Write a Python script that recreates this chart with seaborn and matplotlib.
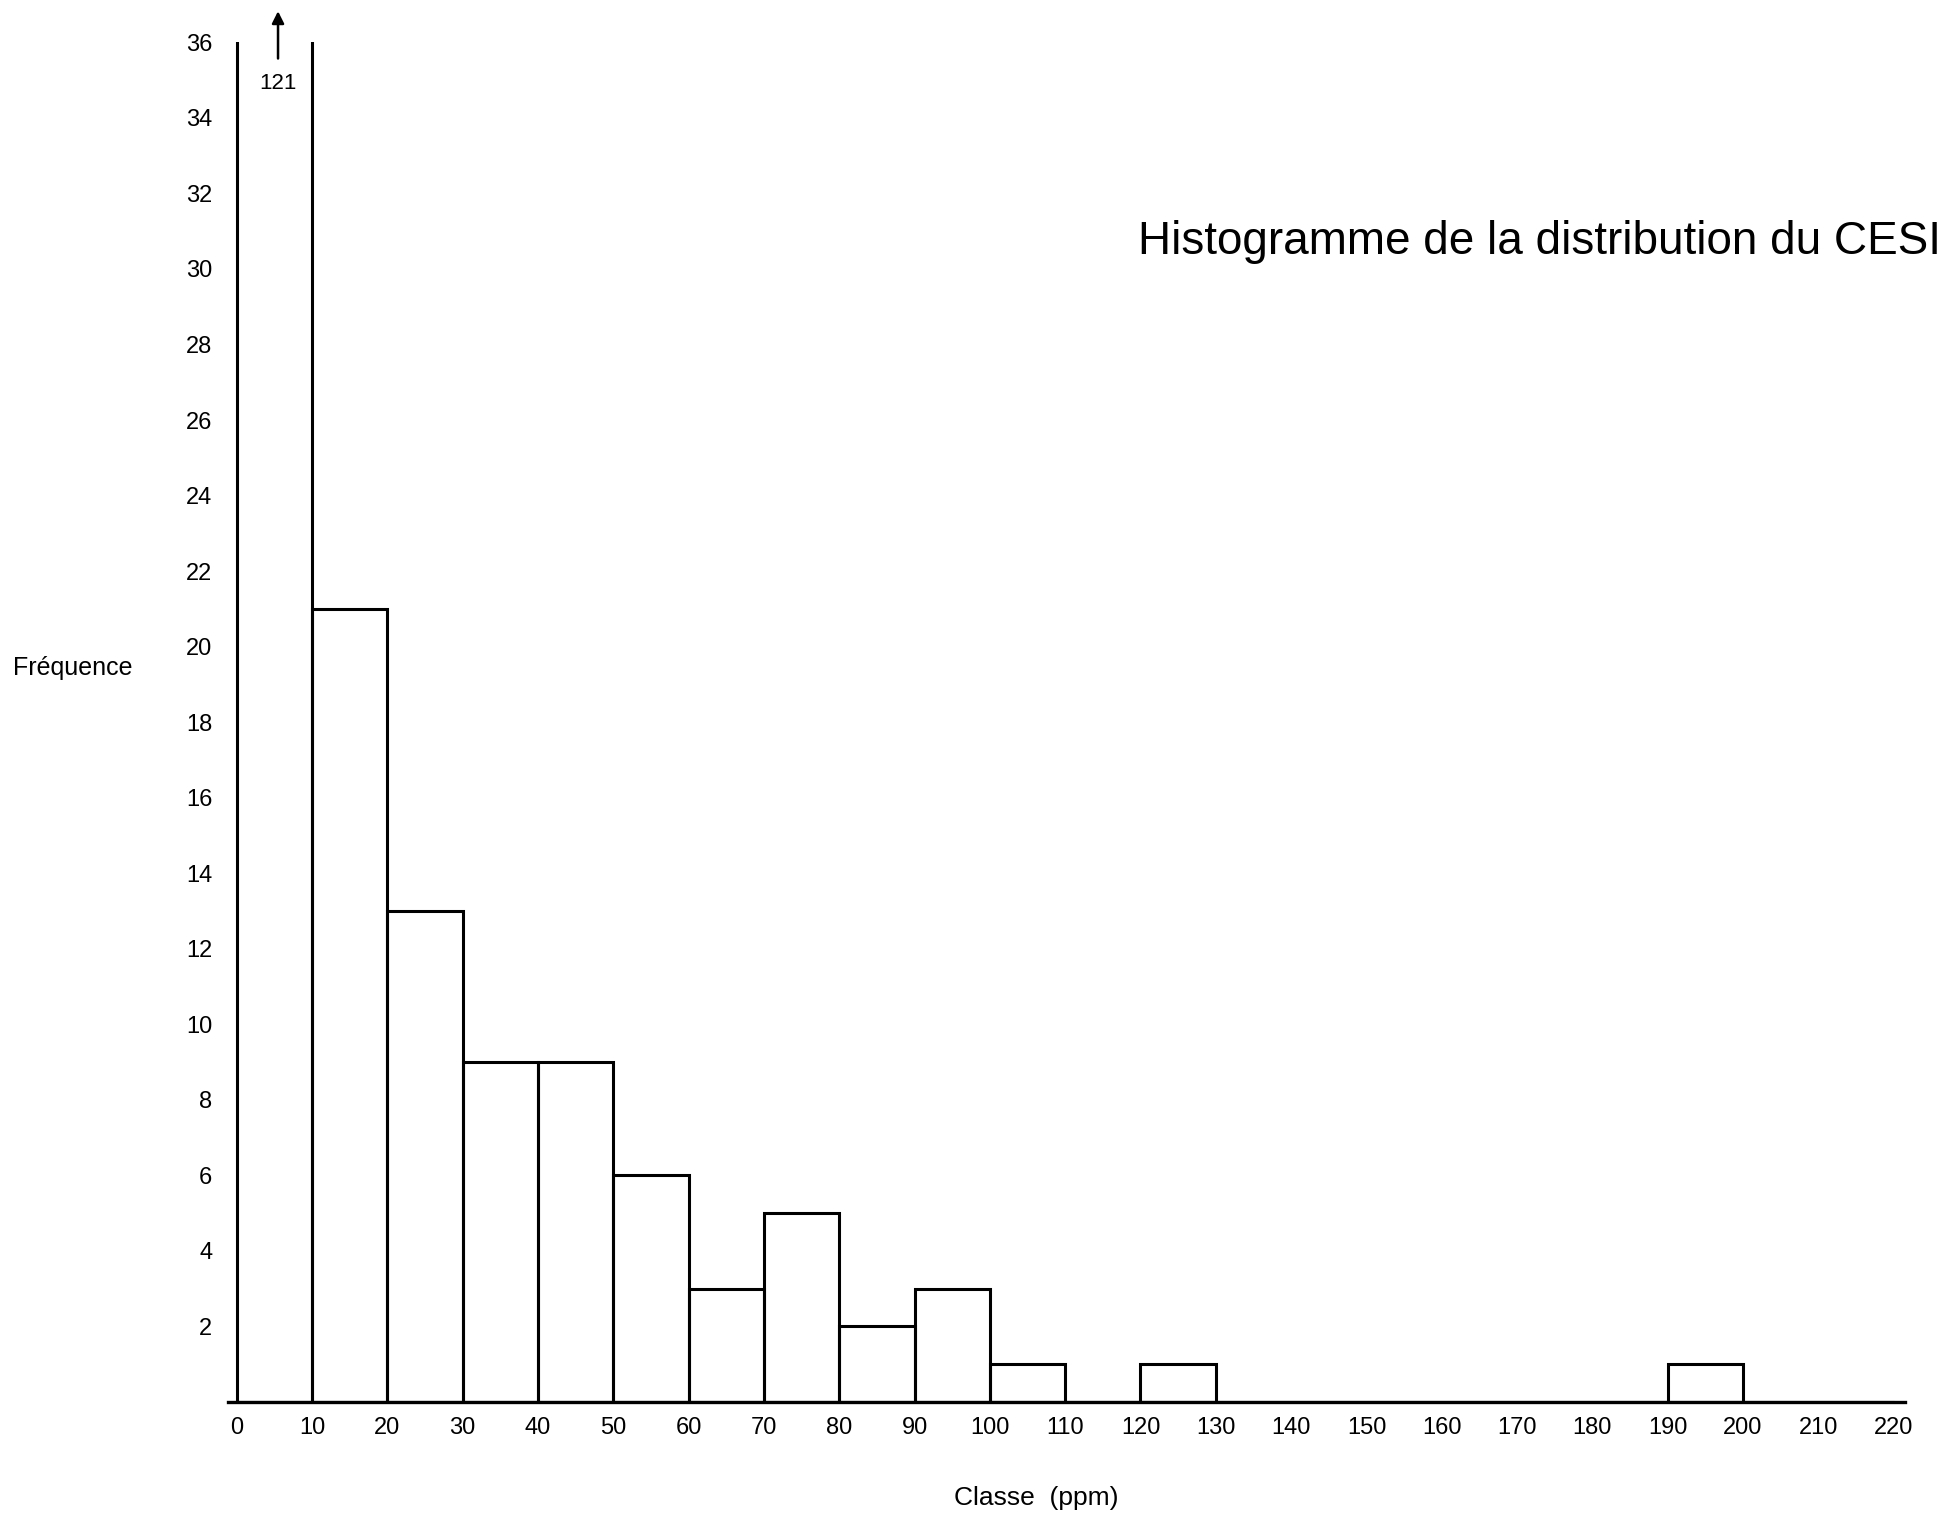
import numpy as np
import pandas as pd
import matplotlib
matplotlib.use("Agg")
import matplotlib.pyplot as plt
import seaborn as sns

# Class limits (ppm) and the number of samples in each class
class_edges = list(range(0, 230, 10))
class_counts = [121, 21, 13, 9, 9, 6, 3, 5, 2, 3, 1, 0, 1, 0, 0, 0, 0, 0, 0, 1, 0, 0]
x_ticks = list(range(0, 230, 10))
y_ticks = list(range(2, 38, 2))
first_class_label = "121"

title_text = "Histogramme de la distribution du CESIUM"
x_label = "Classe  (ppm)"
y_label = "Fréquence"

sns.set_theme(style="white")
plt.rcParams["font.family"] = ["Liberation Sans", "DejaVu Sans"]

df = pd.DataFrame({
    "centre": [(a + b) / 2 for a, b in zip(class_edges[:-1], class_edges[1:])],
    "n": class_counts,
})

fig = plt.figure(figsize=(19.4, 15.14), dpi=100)
ax = fig.add_axes([0.1173, 0.074, 0.8666, 0.898])

sns.histplot(data=df, x="centre", weights="n", bins=class_edges, fill=False,
             color="black", linewidth=2.2, ax=ax)

ax.set_xlim(-1.2, 222)
ax.set_ylim(0, 36)
ax.set_xticks(x_ticks)
ax.set_xticklabels([str(t) for t in x_ticks])
ax.set_yticks(y_ticks)
ax.set_yticklabels([str(t) for t in y_ticks])
ax.tick_params(axis="both", length=0, labelsize=17, colors="black")
ax.tick_params(axis="x", pad=11)
ax.tick_params(axis="y", pad=11)

for side in ["top", "right", "left"]:
    ax.spines[side].set_visible(False)
ax.spines["bottom"].set_color("black")
ax.spines["bottom"].set_linewidth(2.4)
ax.spines["bottom"].set_bounds(-1.2, 221.5)

ax.set_xlabel(x_label, fontsize=19, color="black", va="center")
ax.xaxis.set_label_coords(0.481, -0.071)
ax.set_ylabel(y_label, fontsize=18, color="black", rotation=0, ha="center", va="center")
ax.yaxis.set_label_coords(-0.092, 0.54)

# The first class runs far above the frame: an arrow carries its count
ax.annotate("", xy=(5.5, 36.9), xytext=(5.5, 35.5), xycoords="data",
            arrowprops=dict(arrowstyle="-|>", color="black", lw=1.8, mutation_scale=18),
            annotation_clip=False)
ax.text(5.5, 34.9, first_class_label, ha="center", va="center", fontsize=16,
        color="black", clip_on=False)

fig.text(0.5866, 0.84, title_text, ha="left", va="center", fontsize=33, color="black")

fig.savefig("out.png", dpi=100, facecolor="white")
